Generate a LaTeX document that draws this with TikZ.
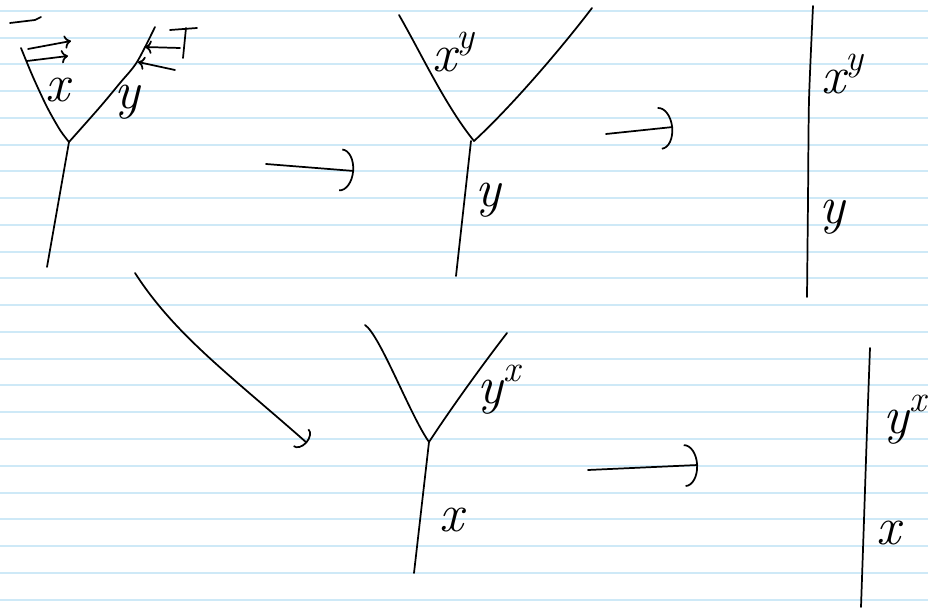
\documentclass[tikz,border=0pt]{standalone}
\usepackage{fontspec}
\usetikzlibrary{arrows.meta}
\definecolor{paper}{RGB}{206,233,247}
\newcommand{\hsup}[1]{\raisebox{0.42em}{\fontsize{28}{30}\selectfont #1}}
\tikzset{
  pen/.style={line width=1.3pt, line cap=round, line join=round},
  ruled/.style={line width=1.5pt, draw=paper},
  lbl/.style={inner sep=0pt, font=\fontsize{40}{44}\selectfont\itshape},
  hook/.style={-{Arc Barb[length=10pt, width=32pt]}},
  tiny/.style={-{To[length=5pt, width=10pt]}}
}
\begin{document}
\begin{tikzpicture}[x=0.75pt, y=-0.75pt]
\useasboundingbox (0,0) rectangle (928,609);
% lined paper
\foreach \k in {0,...,22}
  \draw[ruled] (0,{11+26.75*\k}) -- (928,{11+26.75*\k});

% first tree
\coordinate (v1) at (69,142);
\draw[pen] plot[smooth, tension=0.5] coordinates {(21,48) (33,77) (47,107) (60,130) (v1)};
\draw[pen] plot[smooth, tension=0.5] coordinates {(v1) (100,107) (120,83) (137,62) (155,27)};
\draw[pen] (v1) -- (47,267);
\node[lbl] (x1) at (57,90) {x};
\node[lbl] (y1) at (127,102) {y};
\draw[pen] (10,23) -- (35,20) -- (41,17);
\draw[pen,tiny] (28,49) -- (71,41);
\draw[pen,tiny] (27,61) -- (68,56);
\draw[pen,tiny] (180,48) -- (145,47);
\draw[pen,tiny] (175,70) -- (138,62);
\draw[pen] (170,30) -- (197,28);
\draw[pen] (186,28) -- (183,58);

% second tree
\coordinate (v2) at (474,141);
\draw[pen] (399,15) .. controls (422,55) and (445,105) .. (v2);
\draw[pen] (v2) .. controls (510,108) and (560,50) .. (592,8);
\draw[pen] (471,141) -- (456,276);
\node[lbl] (xy2) at (453,52) {x\hsup{y}};
\node[lbl] (y2) at (488,200) {y};

% third
\draw[pen] plot[smooth, tension=0.4] coordinates {(813,6) (809,100) (808,200) (807,297)};
\node[lbl] (xy3) at (842,74) {x\hsup{y}};
\node[lbl] (y3) at (832,217) {y};

% fourth tree
\coordinate (v4) at (429,442);
\draw[pen] (365,325) .. controls (380,335) and (410,415) .. (v4);
\draw[pen] (v4) .. controls (450,410) and (480,368) .. (507,333);
\draw[pen] (v4) -- (414,573);
\node[lbl] (yx4) at (499,390) {y\hsup{x}};
\node[lbl] (x4) at (451,520) {x};

% fifth
\draw[pen] plot[smooth, tension=0.4] coordinates {(870,348) (867,430) (864,520) (861,607)};
\node[lbl] (yx5) at (905,420) {y\hsup{x}};
\node[lbl] (x5) at (888,533) {x};

% arrows
\coordinate (a1) at (266,164);
\coordinate (b1) at (354,171);
\draw[pen,hook] (a1) -- (b1);
\coordinate (a2) at (606,134);
\coordinate (b2) at (673,127);
\draw[pen,hook] (a2) -- (b2);
\coordinate (a3) at (588,470);
\coordinate (b3) at (698,465);
\draw[pen,hook] (a3) -- (b3);
\coordinate (a4) at (135,273);
\coordinate (b4) at (307,443);
\draw[pen,-{Arc Barb[length=6pt, width=18pt]}] (a4) .. controls (175,335) and (230,375) .. (b4);
\end{tikzpicture}
\end{document}
